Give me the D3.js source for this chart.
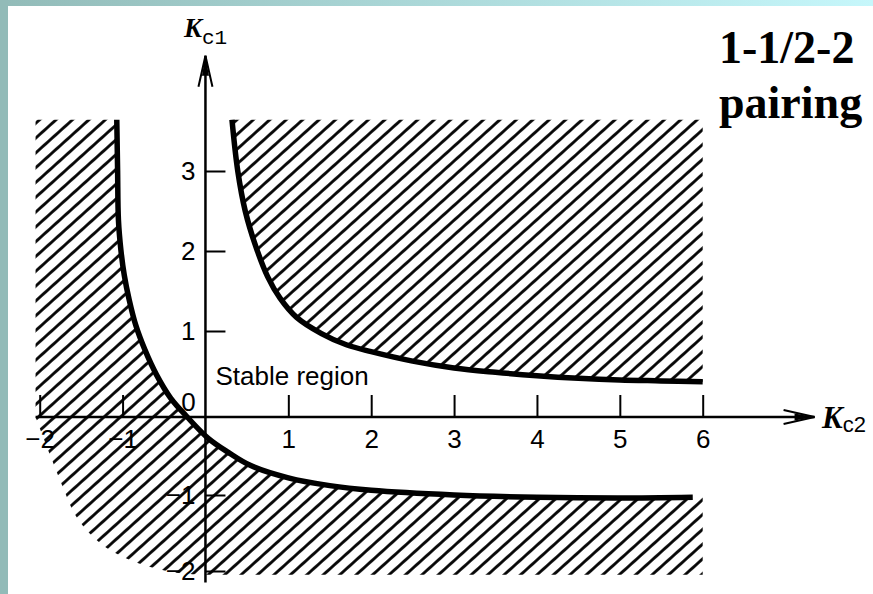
<!DOCTYPE html>
<html>
<head>
<meta charset="utf-8">
<script src="https://cdn.jsdelivr.net/npm/d3@7"></script>
<style>
  html, body { margin: 0; padding: 0; background: #fff; }
  svg { display: block; }
</style>
</head>
<body>
<svg id="chart" width="873" height="594"></svg>
<script>
// Stability boundaries in the (Kc2, Kc1) controller-gain plane
const kc2Ticks = [-2, -1, 1, 2, 3, 4, 5, 6];
const kc1Ticks = [-2, -1, 1, 2, 3];

// upper-right branch of the boundary (Kc2, Kc1)
const upperBoundary = [
  [0.32, 3.64], [0.39, 3.0], [0.48, 2.5], [0.60, 2.08], [0.75, 1.68],
  [0.90, 1.41], [1.10, 1.17], [1.40, 0.97], [1.70, 0.84], [2.0, 0.76],
  [2.5, 0.65], [3.0, 0.57], [3.5, 0.52], [4.0, 0.48], [4.5, 0.45],
  [5.0, 0.43], [5.5, 0.42], [6.0, 0.41]
];

// lower-left branch of the boundary (Kc2, Kc1)
const lowerBoundary = [
  [-1.07, 3.64], [-1.06, 3.01], [-1.05, 2.39], [-1.02, 2.01], [-0.98, 1.70],
  [-0.92, 1.39], [-0.84, 1.07], [-0.73, 0.78], [-0.59, 0.49], [-0.42, 0.22],
  [-0.22, 0.0], [0.03, -0.27], [0.27, -0.45], [0.54, -0.62], [1.0, -0.78],
  [1.5, -0.88], [2.0, -0.94], [3.0, -1.0], [4.0, -1.03], [5.0, -1.04],
  [5.88, -1.03]
];

// outer edge of the shaded zone below the Kc2 axis
const outerArc = [
  [0.0, -2.05], [-0.3, -2.03], [-0.8, -1.90], [-1.25, -1.65],
  [-1.55, -1.30], [-1.72, -0.90], [-1.87, -0.50], [-2.05, 0.0]
];

const shadeTop = 3.64, shadeBottom = -2.05, shadeLeft = -2.05, shadeRight = 6;
const kc2AxisEnd = 7.35, kc1AxisEnd = 4.44, kc1AxisStart = -2.15;

const svg = d3.select("#chart");
const W = 873, H = 594;

const x = d3.scaleLinear().domain([-2, 6]).range([39.7, 702.7]);
const y = d3.scaleLinear().domain([-2, -1, 0, 1, 2, 3]).range([571, 495, 417, 331, 251, 171]);

// page frame
const defs = svg.append("defs");
const grad = defs.append("linearGradient").attr("id", "frameGrad")
  .attr("x1", "0%").attr("x2", "100%").attr("y1", "0%").attr("y2", "0%");
grad.append("stop").attr("offset", "0%").attr("stop-color", "#92bbb8");
grad.append("stop").attr("offset", "100%").attr("stop-color", "#c6f7fb");

svg.append("rect").attr("width", W).attr("height", H).attr("fill", "#fff");
svg.append("rect").attr("x", 0).attr("y", 0).attr("width", W).attr("height", 6).attr("fill", "url(#frameGrad)");
svg.append("rect").attr("x", 0).attr("y", 0).attr("width", 8).attr("height", H).attr("fill", "#92bbb8");

// diagonal hatching for the unstable regions
defs.append("pattern").attr("id", "hatch")
  .attr("patternUnits", "userSpaceOnUse")
  .attr("width", 20).attr("height", 11)
  .attr("patternTransform", "rotate(-42)")
  .append("rect").attr("x", 0).attr("y", 4.1).attr("width", 20).attr("height", 2.8).attr("fill", "#000");

const smooth = d3.line().x(d => x(d[0])).y(d => y(d[1])).curve(d3.curveCatmullRom.alpha(0.5));
const pt = (a, b) => x(a) + "," + y(b);

// upper unstable region
const upperPath = smooth(upperBoundary)
  + "L" + pt(shadeRight, shadeTop)
  + "L" + pt(upperBoundary[0][0], shadeTop) + "Z";
svg.append("path").attr("d", upperPath).attr("fill", "url(#hatch)");

// lower-left unstable region
const lastLow = lowerBoundary[lowerBoundary.length - 1];
const lowerPath = "M" + pt(shadeLeft, shadeTop)
  + "L" + smooth(lowerBoundary).slice(1)
  + "L" + pt(shadeRight, lastLow[1])
  + "L" + pt(shadeRight, shadeBottom)
  + "L" + pt(0, shadeBottom)
  + "L" + smooth(outerArc).slice(1) + "Z";
svg.append("path").attr("d", lowerPath).attr("fill", "url(#hatch)");

// boundary curves
[upperBoundary, lowerBoundary].forEach(pts => {
  svg.append("path").attr("d", smooth(pts))
    .attr("fill", "none").attr("stroke", "#000")
    .attr("stroke-width", 5.5).attr("stroke-linejoin", "round");
});

// axes
const fontTick = "'Liberation Sans', Arial, sans-serif";
const minusFmt = d => d < 0 ? "\u2212" + Math.abs(d) : String(d);

const xAxis = svg.append("g").attr("transform", `translate(0,${y(0)})`)
  .call(d3.axisBottom(x).tickValues(kc2Ticks).tickSize(-22).tickPadding(13).tickFormat(minusFmt));
const yAxis = svg.append("g").attr("transform", `translate(${x(0)},0)`)
  .call(d3.axisLeft(y).tickValues(kc1Ticks).tickSize(-20).tickPadding(10).tickFormat(minusFmt));

[xAxis, yAxis].forEach(g => {
  g.select(".domain").remove();
  g.selectAll(".tick line").attr("stroke", "#000").attr("stroke-width", 2);
  g.selectAll(".tick text").attr("fill", "#000")
    .style("font-family", fontTick).style("font-size", "26px");
});

// axis lines with arrowheads
svg.append("line")
  .attr("x1", x(shadeLeft)).attr("x2", x(kc2AxisEnd))
  .attr("y1", y(0)).attr("y2", y(0))
  .attr("stroke", "#000").attr("stroke-width", 2.5);
svg.append("line")
  .attr("x1", x(0)).attr("x2", x(0))
  .attr("y1", y(kc1AxisStart)).attr("y2", y(kc1AxisEnd))
  .attr("stroke", "#000").attr("stroke-width", 2.5);

const arrow = (tx, ty, angle) => {
  const g = svg.append("g").attr("transform", `translate(${tx},${ty}) rotate(${angle})`);
  g.append("path").attr("d", "M-31,-7L0,0L-31,7").attr("fill", "none")
    .attr("stroke", "#000").attr("stroke-width", 2);
  g.append("path").attr("d", "M0,0L-20,-3.5L-20,3.5Z").attr("fill", "#000");
};
arrow(x(kc2AxisEnd), y(0), 0);
arrow(x(0), y(kc1AxisEnd), -90);

// origin label
svg.append("text").attr("x", x(0) - 17).attr("y", y(0) - 6)
  .attr("text-anchor", "middle").style("font-family", fontTick).style("font-size", "26px")
  .text("0");

// axis titles
const kLabel = (tx, ty, sub, size, subSize, subDy, subFont) => {
  const t = svg.append("text").attr("x", tx).attr("y", ty);
  t.append("tspan").text("K")
    .style("font-family", "'Liberation Serif', 'Times New Roman', serif")
    .style("font-style", "italic").style("font-weight", "bold").style("font-size", size + "px");
  t.append("tspan").text(sub).attr("dy", subDy)
    .style("font-family", subFont).style("font-size", subSize + "px");
};
kLabel(184, 37, "c1", 27, 21, 7, "'Liberation Mono', 'DejaVu Sans Mono', monospace");
kLabel(822, 428, "c2", 31, 22, 4, fontTick);

// region label
svg.append("text").attr("x", x(0) + 10).attr("y", 385)
  .style("font-family", fontTick).style("font-size", "26px")
  .text("Stable region");

// pairing title
const title = svg.append("text").attr("x", 719)
  .style("font-family", "'Liberation Serif', 'Times New Roman', serif")
  .style("font-weight", "bold").style("font-size", "46px");
title.append("tspan").attr("x", 719).attr("y", 63).text("1-1/2-2");
title.append("tspan").attr("x", 719).attr("y", 118).text("pairing");
</script>
</body>
</html>
